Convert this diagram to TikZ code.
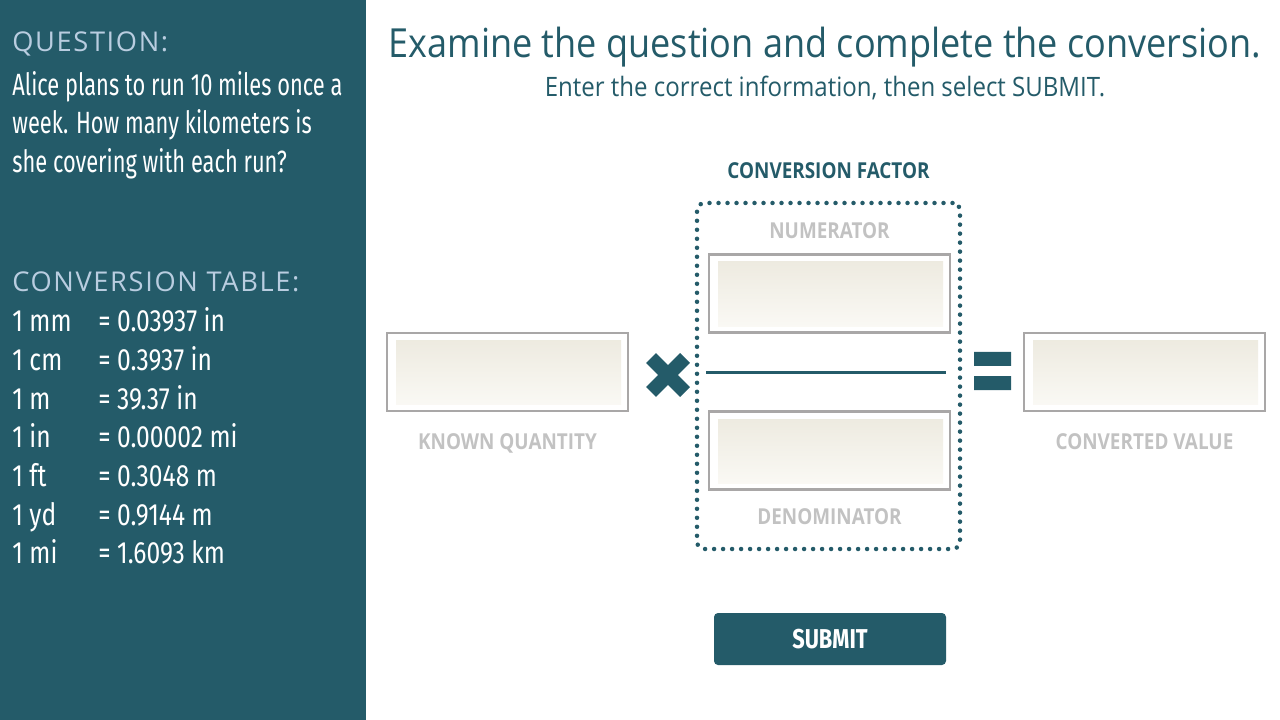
\documentclass[tikz,border=0pt]{standalone}
\usepackage{fontspec}
\usepackage{xcolor}
\usepackage{tikz}
\setmainfont{Fira Sans}
\newfontfamily\condfont[FakeStretch=0.8]{Fira Sans}
\newfontfamily\qfont[FakeStretch=0.71]{Fira Sans}
\newfontfamily\headfont[LetterSpace=6]{Open Sans}
\newfontfamily\labelfont[FakeStretch=0.86]{Open Sans}
\newfontfamily\titlefont[FakeStretch=0.9]{Open Sans}
\usetikzlibrary{positioning,calc}

\definecolor{panelteal}{HTML}{245B69}
\definecolor{headblue}{HTML}{B9CDE0}
\definecolor{labelgray}{HTML}{C2C2C2}
\definecolor{boxgray}{HTML}{A9A7A7}
\definecolor{fieldtop}{HTML}{ECE9DE}
\definecolor{fieldbot}{HTML}{FBFAF6}

\tikzset{
  heading/.style={anchor=base west, inner sep=0, text=headblue, font=\headfont\fontsize{15.5}{18}\selectfont},
  tabtext/.style={anchor=base west, inner sep=0, text=white, font=\condfont\fontsize{17.5}{22}\selectfont},
  field/.style={draw=boxgray, line width=0.5mm, fill=white, minimum width=48.2mm, minimum height=15.6mm,
    path picture={\shade[top color=fieldtop, bottom color=fieldbot]
      ([xshift=1.8mm,yshift=-1.5mm]path picture bounding box.north west) rectangle
      ([xshift=-1.4mm,yshift=1.3mm]path picture bounding box.south east);}},
  fieldlabel/.style={inner sep=0, text=labelgray, font=\labelfont\bfseries\fontsize{12.5}{15}\selectfont},
}

\begin{document}
\begin{tikzpicture}[x=0.2mm, y=-0.2mm]
  \useasboundingbox (0,0) rectangle (1280,720);
  \fill[panelteal] (0,0) rectangle (366,720);

  % question panel
  \node[heading] (qhead) at (12,52) {QUESTION:};
  \node[tabtext, anchor=north west, align=left, font=\qfont\fontsize{17.5}{22}\selectfont] (qtext) at (12,71)
    {Alice plans to run 10 miles once a\\week. How many kilometers is\\she covering with each run?};

  \node[heading] (thead) at (12,292) {CONVERSION TABLE:};
  \foreach \unit/\value [count=\i] in {1 mm/0.03937 in, 1 cm/0.3937 in, 1 m/39.37 in,
      1 in/0.00002 mi, 1 ft/0.3048 m, 1 yd/0.9144 m, 1 mi/1.6093 km} {
    \node[tabtext] (unit\i) at (12,{332+(\i-1)*38.6}) {\unit};
    \node[tabtext] (value\i) at (98,{332+(\i-1)*38.6}) {= \value};
  }

  % instructions
  \node[text=panelteal, font=\titlefont\fontsize{22.8}{27}\selectfont] (title) at (825,47)
    {Examine the question and complete the conversion.};
  \node[text=panelteal, font=\titlefont\fontsize{15.2}{18}\selectfont] (subtitle) at (825,88)
    {Enter the correct information, then select SUBMIT.};

  % conversion
  \node[draw=panelteal, line width=0.9mm, dash pattern=on 0pt off 1.8mm, line cap=round,
    rounded corners=1.5mm, minimum width=52.6mm, minimum height=69.2mm] (factor) at (828.5,376) {};
  \node[fieldlabel, text=panelteal, above=4.4mm of factor] (factorlabel) {CONVERSION FACTOR};

  \node[field] (numer) at (829.5,293.5) {};
  \node[fieldlabel, above=2.8mm of numer] (numerlabel) {NUMERATOR};
  \node[field] (denom) at (829.5,450.5) {};
  \node[fieldlabel, below=3.4mm of denom] (denomlabel) {DENOMINATOR};
  \coordinate (barl) at (706,372);
  \coordinate (barr) at (946,372);
  \draw[panelteal, line width=0.6mm] (barl) -- (barr);

  \node[field] (known) at (507.5,372) {};
  \node[fieldlabel, below=4.2mm of known] (knownlabel) {KNOWN QUANTITY};
  \node[field] (converted) at (1144.5,372) {};
  \node[fieldlabel, below=4.2mm of converted] (convlabel) {CONVERTED VALUE};

  % operators
  \coordinate (times) at (668,375);
  \draw[panelteal, line width=2.8mm] ($(times)+(-17,-17)$) -- ($(times)+(17,17)$)
    ($(times)+(-17,17)$) -- ($(times)+(17,-17)$);
  \coordinate (equals) at (992.5,371);
  \fill[panelteal] ($(equals)+(-18.5,-19)$) rectangle ($(equals)+(18.5,-5)$)
    ($(equals)+(-18.5,5)$) rectangle ($(equals)+(18.5,19)$);

  \node[fill=panelteal, rounded corners=0.8mm, minimum width=46.4mm, minimum height=10.4mm,
    text=white, font=\condfont\bfseries\fontsize{15.5}{18}\selectfont] (submit) at (830,639) {SUBMIT};
\end{tikzpicture}
\end{document}
